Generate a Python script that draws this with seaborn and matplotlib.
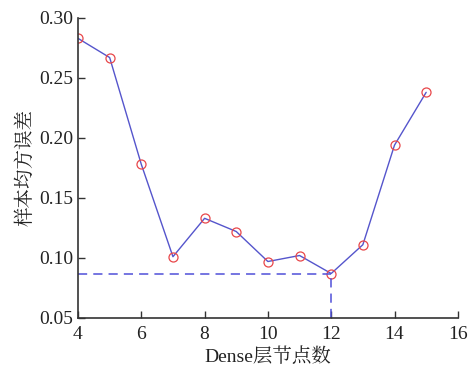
import matplotlib
matplotlib.use("Agg")
import matplotlib.pyplot as plt
import seaborn as sns
import pandas as pd

nodes = [4, 5, 6, 7, 8, 9, 10, 11, 12, 13, 14, 15]
mse = [0.283, 0.267, 0.178, 0.101, 0.133, 0.122, 0.097, 0.102, 0.087, 0.111, 0.194, 0.238]
best_node = 12
best_mse = 0.087
xticks = [4, 6, 8, 10, 12, 14, 16]
yticks = [0.05, 0.10, 0.15, 0.20, 0.25, 0.30]

sns.set_style("ticks")
plt.rcParams['font.family'] = ['Liberation Serif', 'Noto Serif CJK SC', 'Noto Sans CJK SC', 'DejaVu Sans']
plt.rcParams['xtick.direction'] = 'in'
plt.rcParams['ytick.direction'] = 'in'

fig = plt.figure(figsize=(4.71, 3.74), dpi=100)
ax = fig.add_axes([0.1656, 0.150, 0.8064, 0.802])

df = pd.DataFrame({"nodes": nodes, "mse": mse})
sns.lineplot(data=df, x="nodes", y="mse", ax=ax, color="#5555cc", linewidth=1.0,
             marker="o", markersize=6.5, markerfacecolor="none",
             markeredgecolor="#e8474a", markeredgewidth=0.9)

ax.plot([4, best_node], [best_mse, best_mse], linestyle=(0, (6, 4)), color="#4f4fd8", linewidth=1.1)
ax.plot([best_node, best_node], [0.05, best_mse], linestyle=(0, (6, 4)), color="#4f4fd8", linewidth=1.1)

ax.set_xlim(4, 16)
ax.set_ylim(0.05, 0.30)
ax.set_xticks(xticks)
ax.set_yticks(yticks)
ax.set_yticklabels([f"{v:.2f}" for v in yticks])
ax.tick_params(labelsize=14, length=5, width=1.0, color="#333333", labelcolor="#222222")
ax.tick_params(axis="x", pad=6)
ax.set_xlabel("Dense层节点数", fontsize=14, color="#222222", labelpad=3)
ax.set_ylabel("样本均方误差", fontsize=14, color="#222222", labelpad=3)
for s in ["top", "right"]:
    ax.spines[s].set_visible(False)
for s in ["left", "bottom"]:
    ax.spines[s].set_color("#333333")
    ax.spines[s].set_linewidth(1.2)

fig.savefig("out.png", dpi=100)
